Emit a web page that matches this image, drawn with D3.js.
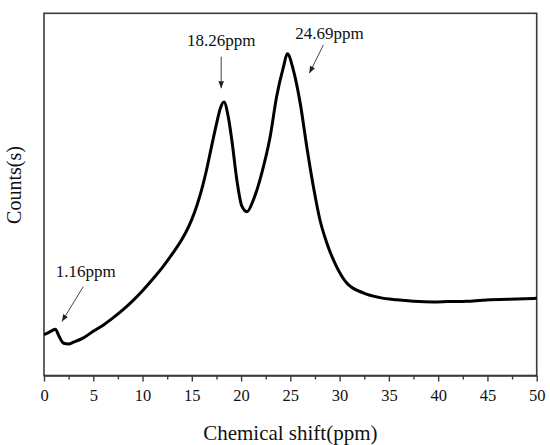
<!DOCTYPE html>
<html>
<head>
<meta charset="utf-8">
<script src="https://cdn.jsdelivr.net/npm/d3@7"></script>
<style>
  html, body { margin: 0; padding: 0; background: #fff; }
  svg { display: block; }
  text { font-family: "Liberation Serif", "Times New Roman", serif; fill: #111; }
</style>
</head>
<body>
<svg id="chart" width="550" height="445"></svg>
<script>
// Chemical shift (ppm) and counts (arbitrary units)
const shift = [0, 0.5, 1.16, 1.5, 2.0, 2.5, 3.0, 4.0, 5.0, 6.0, 7.0, 8.0, 9.0, 10, 11, 12, 13, 14.0, 14.5, 15.0, 15.5, 16.0, 16.5, 17.0, 17.5, 17.9, 18.26, 18.7, 19.06, 19.57, 20.07, 20.6, 21.25, 22.1, 22.95, 23.6, 24.3, 24.69, 25.3, 26.0, 26.67, 27.34, 28.0, 28.7, 29.7, 30.7, 32.4, 34.1, 35.8, 37.5, 39.5, 41, 42.9, 44.5, 46.3, 48, 50];
const counts = [11.3, 11.9, 12.8, 11.0, 8.9, 8.7, 9.2, 10.4, 12.2, 13.9, 15.9, 18.1, 20.6, 23.4, 26.5, 29.8, 33.5, 37.6, 40.1, 43.1, 46.8, 51.3, 56.8, 63.2, 69.4, 73.8, 75.5, 71.4, 65.0, 54.0, 46.8, 45.2, 48.5, 55.9, 65.9, 76.9, 85.2, 88.8, 84.4, 75.2, 63.1, 52.1, 43.0, 36.6, 30.0, 25.6, 22.8, 21.5, 20.9, 20.5, 20.3, 20.4, 20.5, 20.8, 21.0, 21.1, 21.3];
const xTicks = [0, 5, 10, 15, 20, 25, 30, 35, 40, 45, 50];
const xMinorTicks = [2.5, 7.5, 12.5, 17.5, 22.5, 27.5, 32.5, 37.5, 42.5, 47.5];
// Peak annotations: label, text anchor (ppm, counts), arrow start and tip (ppm, counts)
const annLabels = ["1.16ppm", "18.26ppm", "24.69ppm"];
const annText = [[4.23, 27.2], [17.98, 91.0], [28.98, 93.0]];
const annFrom = [[4.0, 24.6], [17.98, 88.0], [28.35, 91.25]];
const annTo = [[1.82, 14.9], [17.98, 79.3], [26.93, 83.45]];

const svg = d3.select("#chart");
const mLeft = 44, mRight = 536.7, mTop = 13.3, mBottom = 375.5;

const x = d3.scaleLinear().domain([0, 50]).range([mLeft, mRight]);
const y = d3.scaleLinear().domain([0, 100]).range([mBottom, mTop]);

// frame
svg.append("rect")
  .attr("x", mLeft).attr("y", mTop)
  .attr("width", mRight - mLeft).attr("height", mBottom - mTop)
  .attr("fill", "none").attr("stroke", "#3a3a3a").attr("stroke-width", 1.6);

// x axis
const xAxis = svg.append("g").attr("transform", `translate(0,${mBottom})`)
  .call(d3.axisBottom(x).tickValues(xTicks).tickSize(6).tickSizeOuter(0).tickPadding(8).tickFormat(d3.format("d")));
xAxis.attr("font-size", 16.5).attr("font-family", "Liberation Serif, Times New Roman, serif");
xAxis.select(".domain").attr("stroke", "#3a3a3a").attr("stroke-width", 1.6);
xAxis.selectAll(".tick line").attr("stroke", "#3a3a3a").attr("stroke-width", 1.4);
xAxis.selectAll(".tick text").attr("font-size", 16.5).attr("fill", "#111");

const xMinor = svg.append("g").attr("transform", `translate(0,${mBottom})`)
  .call(d3.axisBottom(x).tickValues(xMinorTicks).tickSize(4).tickFormat(""));
xMinor.select(".domain").remove();
xMinor.selectAll(".tick line").attr("stroke", "#3a3a3a").attr("stroke-width", 1.4);

// axis titles
svg.append("text")
  .attr("x", (mLeft + mRight) / 2).attr("y", 440)
  .attr("text-anchor", "middle").attr("font-size", 21)
  .text("Chemical shift(ppm)");
svg.append("text")
  .attr("transform", `translate(21,185) rotate(-90)`)
  .attr("text-anchor", "middle").attr("font-size", 20)
  .text("Counts(s)");

// spectrum
const data = shift.map((s, i) => [s, counts[i]]);
const line = d3.line().x(d => x(d[0])).y(d => y(d[1])).curve(d3.curveMonotoneX);
svg.append("path")
  .datum(data)
  .attr("d", line)
  .attr("fill", "none")
  .attr("stroke", "#000")
  .attr("stroke-width", 3)
  .attr("stroke-linejoin", "round");

// arrow marker
svg.append("defs").append("marker")
  .attr("id", "arrow").attr("viewBox", "0 0 10 10")
  .attr("refX", 10).attr("refY", 5)
  .attr("markerWidth", 7).attr("markerHeight", 7)
  .attr("markerUnits", "userSpaceOnUse")
  .attr("orient", "auto")
  .append("path").attr("d", "M0,1 L10,5 L0,9 Z").attr("fill", "#222");

annLabels.forEach((lab, i) => {
  svg.append("line")
    .attr("x1", x(annFrom[i][0])).attr("y1", y(annFrom[i][1]))
    .attr("x2", x(annTo[i][0])).attr("y2", y(annTo[i][1]))
    .attr("stroke", "#444").attr("stroke-width", 1)
    .attr("marker-end", "url(#arrow)");
  svg.append("text")
    .attr("x", x(annText[i][0])).attr("y", y(annText[i][1]))
    .attr("text-anchor", "middle").attr("font-size", 17)
    .text(lab);
});
</script>
</body>
</html>
